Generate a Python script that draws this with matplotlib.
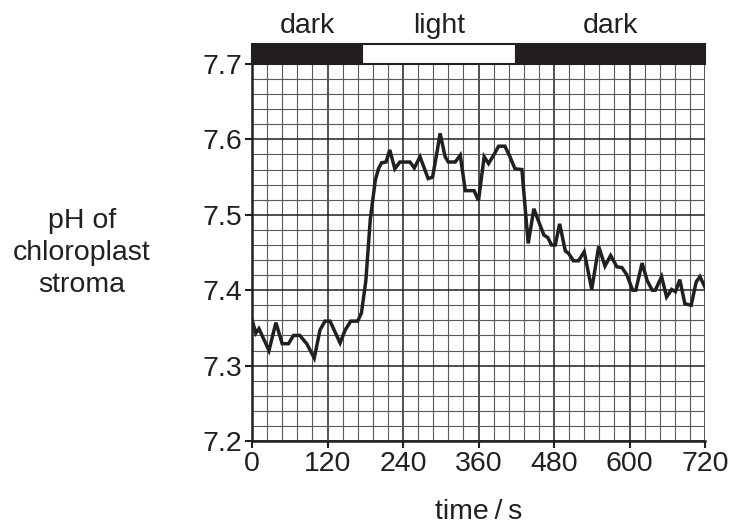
import numpy as np
import matplotlib.pyplot as plt
import matplotlib as mpl
from matplotlib.patches import Rectangle
from matplotlib.ticker import MultipleLocator

mpl.rcParams['font.family'] = ['Liberation Sans', 'DejaVu Sans']

# time (s) and stroma pH
time_s = [0, 6, 11, 27, 38, 48, 58, 66, 76, 87, 99, 108, 116, 124, 140, 148,
          157, 168, 174, 181, 188, 196, 201, 206, 213, 219, 227, 235, 251, 258,
          267, 280, 287, 294, 299, 307, 312, 323, 331, 339, 353, 360, 369, 376,
          384, 392, 402, 410, 418, 429, 439, 448, 458, 464, 470, 476, 482, 489,
          498, 503, 511, 519, 528, 540, 551, 561, 570, 580, 588, 596, 605, 610,
          620, 628, 636, 641, 651, 659, 667, 673, 680, 688, 698, 706, 712, 720]
ph = [7.361, 7.343, 7.349, 7.320, 7.357, 7.329, 7.329, 7.340, 7.340, 7.329,
      7.310, 7.347, 7.359, 7.359, 7.330, 7.347, 7.359, 7.359, 7.370, 7.413,
      7.494, 7.546, 7.561, 7.569, 7.570, 7.586, 7.561, 7.570, 7.570, 7.562,
      7.577, 7.548, 7.550, 7.583, 7.608, 7.577, 7.570, 7.570, 7.579, 7.532,
      7.532, 7.519, 7.577, 7.568, 7.579, 7.591, 7.591, 7.577, 7.561, 7.560,
      7.462, 7.508, 7.486, 7.473, 7.470, 7.460, 7.460, 7.488, 7.452, 7.449,
      7.439, 7.439, 7.451, 7.401, 7.458, 7.432, 7.446, 7.431, 7.430, 7.420,
      7.400, 7.400, 7.436, 7.413, 7.400, 7.400, 7.418, 7.391, 7.401, 7.398,
      7.414, 7.382, 7.380, 7.411, 7.418, 7.404]

# light / dark periods shown in the bar above the grid
periods = ['dark', 'light', 'dark']
period_start = [0, 175, 420]
period_end = [175, 420, 720]
period_fill = ['#231f20', 'white', '#231f20']

x_ticks = [0, 120, 240, 360, 480, 600, 720]
y_ticks = [7.2, 7.3, 7.4, 7.5, 7.6, 7.7]

ink = '#231f20'
fs = 20.5

fig = plt.figure(figsize=(7.34, 5.24), dpi=100)
ax = fig.add_axes([252 / 734, 1 - 441 / 524, 453 / 734, 377 / 524])

ax.set_xlim(0, 720)
ax.set_ylim(7.2, 7.7)
ax.set_xticks(x_ticks)
ax.set_yticks(y_ticks)
ax.set_yticklabels([f'{v:.1f}' for v in y_ticks])
ax.xaxis.set_minor_locator(MultipleLocator(24))
ax.yaxis.set_minor_locator(MultipleLocator(0.02))

ax.grid(which='minor', color='#5a5a5a', lw=0.8)
ax.grid(which='major', color=ink, lw=1.1)
ax.set_axisbelow(True)
ax.tick_params(which='minor', length=0)
ax.tick_params(which='major', direction='out', length=5, width=1.5,
               color=ink, labelsize=fs, labelcolor=ink, pad=2)

for side in ['top', 'right']:
    ax.spines[side].set_visible(False)
for side in ['left', 'bottom']:
    ax.spines[side].set_linewidth(1.8)
    ax.spines[side].set_color(ink)

ax.plot(time_s, ph, color=ink, lw=2.5, solid_joinstyle='miter', zorder=3)

bar_lo, bar_hi = 7.7, 7.727
for name, a, b, c in zip(periods, period_start, period_end, period_fill):
    ax.add_patch(Rectangle((a, bar_lo), b - a, bar_hi - bar_lo, facecolor=c,
                           edgecolor=ink, lw=1.5, clip_on=False, zorder=4))
    ax.text((a + b) / 2, bar_hi + 0.006, name, ha='center', va='bottom',
            fontsize=fs, color=ink, clip_on=False)

fig.text(82 / 734, 1 - 253 / 524, 'pH of\nchloroplast\nstroma', ha='center',
         va='center', fontsize=fs, color=ink, linespacing=1.3)
ax.set_xlabel('time\u2009/\u2009s', fontsize=fs, color=ink, labelpad=16)

fig.savefig('out.png', dpi=100)
